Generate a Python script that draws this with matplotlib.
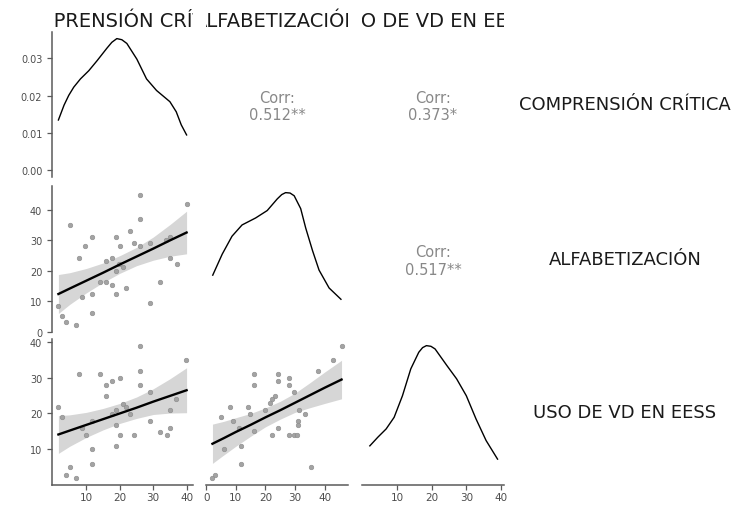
"""Scatterplot matrix (ggpairs style) of three scores: densities on the
diagonal, scatter + linear fit below, correlation text above."""

import matplotlib
matplotlib.use("Agg")
import matplotlib.pyplot as plt

W, H = 745, 506

VARS = ["COMPRENSIÓN CRÍTICA", "ALFABETIZACIÓN", "USO DE VD EN EESS"]
CORR_TEXT = {(0, 1): "0.512**", (0, 2): "0.373*", (1, 2): "0.517**"}

# --- scatter panels ---------------------------------------------------------
COMP_ALF_X = [26.0, 40.0, 5.0, 26.0, 23.1, 11.7, 18.8, 9.7, 20.0, 24.3, 26.0, 29.0,
              33.8, 35.0, 7.9, 15.9, 17.7, 19.9, 20.9, 18.8, 35.0, 37.0, 14.0, 15.9,
              17.8, 32.1, 8.6, 11.7, 18.8, 21.9, 29.0, 1.6, 2.7, 3.8, 6.8, 11.7]
COMP_ALF_Y = [45.0, 42.0, 35.2, 37.1, 33.2, 31.1, 31.1, 28.1, 28.1, 29.1, 28.1, 29.1,
              30.2, 31.0, 24.3, 23.1, 24.2, 22.3, 21.2, 20.1, 24.3, 22.3, 16.2, 16.2,
              15.2, 16.2, 11.3, 12.4, 12.4, 14.3, 9.5, 8.3, 5.3, 3.3, 2.3, 6.3]

COMP_USO_X = [26.0, 39.9, 7.9, 14.0, 26.0, 17.7, 20.0, 15.9, 26.0, 15.9, 29.0, 1.6,
              2.7, 20.9, 21.9, 18.8, 17.7, 23.1, 35.0, 36.9, 11.7, 8.6, 18.8, 29.0,
              20.0, 24.2, 32.0, 34.0, 35.0, 18.8, 11.7, 11.7, 5.0, 3.8, 6.8, 9.9]
COMP_USO_Y = [39.0, 35.0, 31.0, 31.0, 31.9, 29.1, 30.0, 28.1, 28.1, 25.0, 26.0, 21.9,
              19.1, 22.7, 21.9, 21.0, 19.9, 19.9, 21.0, 24.1, 17.8, 16.0, 16.8, 17.8,
              13.9, 13.9, 14.9, 13.9, 16.0, 10.9, 9.9, 5.9, 4.9, 2.8, 1.8, 13.9]

ALF_USO_X = [45.7, 42.8, 37.7, 16.2, 24.3, 28.1, 16.2, 24.3, 28.1, 29.6, 23.1, 22.2,
             21.4, 8.1, 14.1, 19.9, 5.0, 14.8, 31.3, 33.4, 8.9, 31.1, 31.1, 11.1,
             24.3, 16.2, 22.2, 28.1, 29.7, 30.6, 5.9, 11.9, 11.9, 35.4, 3.0, 2.1]
ALF_USO_Y = [39.0, 35.0, 31.9, 31.0, 31.0, 30.0, 28.1, 29.1, 28.1, 26.0, 25.0, 24.1,
             22.9, 21.9, 21.9, 21.0, 19.0, 19.9, 21.0, 19.9, 17.8, 17.8, 16.7, 16.0,
             16.0, 15.0, 13.9, 13.9, 13.9, 13.9, 9.9, 10.9, 5.9, 4.9, 2.8, 1.8]

# --- linear fits with confidence band ---------------------------------------
FIT_COMP_ALF_X = [1.6, 5, 10, 15, 20, 25, 30, 35, 40]
FIT_COMP_ALF_Y = [12.4, 14.2, 16.8, 19.4, 22.1, 24.7, 27.3, 30.0, 32.6]
FIT_COMP_ALF_LO = [6.0, 9.0, 12.8, 16.2, 19.2, 21.7, 23.5, 24.8, 25.6]
FIT_COMP_ALF_HI = [18.8, 19.4, 20.8, 22.6, 25.0, 27.7, 31.1, 35.2, 39.6]

FIT_COMP_USO_X = [1.6, 5, 10, 15, 20, 25, 30, 35, 40]
FIT_COMP_USO_Y = [14.1, 15.2, 16.8, 18.4, 20.0, 21.6, 23.3, 24.9, 26.5]
FIT_COMP_USO_LO = [8.8, 10.8, 13.3, 15.4, 17.2, 18.6, 19.7, 20.1, 20.2]
FIT_COMP_USO_HI = [19.4, 19.6, 20.3, 21.4, 22.8, 24.6, 26.9, 29.7, 32.8]

FIT_ALF_USO_X = [2.1, 6, 10, 15, 20, 25, 30, 35, 40, 45.7]
FIT_ALF_USO_Y = [11.5, 13.1, 14.8, 16.8, 18.9, 20.9, 23.0, 25.1, 27.2, 29.5]
FIT_ALF_USO_LO = [6.0, 8.4, 10.8, 13.6, 16.25, 18.4, 20.3, 21.6, 22.8, 24.1]
FIT_ALF_USO_HI = [17.0, 17.8, 18.8, 20.0, 21.55, 23.4, 25.7, 28.6, 31.6, 34.9]

# --- diagonal densities -----------------------------------------------------
DENS_COMP_X = [1.6, 3.3, 4.7, 6.2, 8.2, 10.7, 13.2, 16.1, 17.6, 19.1, 20.6, 22.1,
               25.1, 28.0, 31.0, 35.0, 36.9, 38.4, 40.0]
DENS_COMP_Y = [0.0135, 0.0175, 0.0201, 0.0223, 0.0245, 0.0267, 0.0294, 0.0327,
               0.0343, 0.0353, 0.0350, 0.0340, 0.0298, 0.0245, 0.0214, 0.0184,
               0.0157, 0.0122, 0.0095]
DENS_ALF_X = [2.2, 5.4, 8.7, 12.1, 16.7, 20.6, 24.0, 25.5, 26.8, 28.3, 29.7, 31.9,
              33.6, 35.9, 38.1, 41.5, 45.5]
DENS_ALF_Y = [0.0129, 0.0183, 0.0229, 0.0258, 0.0276, 0.0295, 0.0325, 0.0336,
              0.0341, 0.0340, 0.0333, 0.0300, 0.0250, 0.0192, 0.0142, 0.0096,
              0.0067]
DENS_USO_X = [2.2, 4.5, 6.9, 9.2, 11.6, 14.0, 16.3, 17.4, 18.5, 19.8, 21.0, 24.4,
              27.2, 30.0, 32.8, 35.7, 39.0]
DENS_USO_Y = [0.0098, 0.0124, 0.0149, 0.0184, 0.0249, 0.0330, 0.0380, 0.0394,
              0.0400, 0.0398, 0.0390, 0.0340, 0.0300, 0.0249, 0.0179, 0.0114,
              0.0058]

# panel placement in pixels (left/right, top/bottom)
COL_PX = [(52, 193), (206, 348), (362, 504)]
ROW_PX = [(33, 178), (187, 333), (340, 486)]

AXIS_GREY = "#5a5a5a"
TEXT_GREY = "#4d4d4d"


def px_rect(x0, x1, y0, y1):
    return [x0 / W, 1 - y1 / H, (x1 - x0) / W, (y1 - y0) / H]


def expand(values, frac=0.05):
    lo, hi = min(values), max(values)
    pad = (hi - lo) * frac
    return lo - pad, hi + pad


def main() -> None:
    fig = plt.figure(figsize=(W / 100, H / 100), dpi=100)

    limits = [
        expand(COMP_ALF_X + COMP_USO_X),
        expand(COMP_ALF_Y + ALF_USO_X),
        expand(COMP_USO_Y + ALF_USO_Y),
    ]
    scatter = {
        (1, 0): (COMP_ALF_X, COMP_ALF_Y, FIT_COMP_ALF_X, FIT_COMP_ALF_Y,
                 FIT_COMP_ALF_LO, FIT_COMP_ALF_HI),
        (2, 0): (COMP_USO_X, COMP_USO_Y, FIT_COMP_USO_X, FIT_COMP_USO_Y,
                 FIT_COMP_USO_LO, FIT_COMP_USO_HI),
        (2, 1): (ALF_USO_X, ALF_USO_Y, FIT_ALF_USO_X, FIT_ALF_USO_Y,
                 FIT_ALF_USO_LO, FIT_ALF_USO_HI),
    }
    dens = [(DENS_COMP_X, DENS_COMP_Y), (DENS_ALF_X, DENS_ALF_Y),
            (DENS_USO_X, DENS_USO_Y)]
    x_ticks = [[10, 20, 30, 40], [0, 10, 20, 30, 40], [10, 20, 30, 40]]
    y_ticks = {1: [0, 10, 20, 30, 40], 2: [10, 20, 30, 40]}

    for r in range(3):
        for c in range(3):
            ax = fig.add_axes(px_rect(*COL_PX[c], *ROW_PX[r]))
            for s in ax.spines.values():
                s.set_visible(False)
            ax.set_xticks([])
            ax.set_yticks([])
            ax.patch.set_visible(False)

            if r < c:
                ax.text(0.5, 0.49, "Corr:\n" + CORR_TEXT[(r, c)],
                        transform=ax.transAxes, ha="center", va="center",
                        fontsize=10.5, color="#888888", linespacing=1.2)
                continue

            ax.set_xlim(*limits[c])
            if r == c:
                dx, dy = dens[c]
                ax.plot(dx, dy, color="black", linewidth=1.0,
                        solid_joinstyle="round")
                top = max(dy)
                ax.set_ylim(-0.05 * top, 1.05 * top)
            else:
                px_, py_, fx, fy, flo, fhi = scatter[(r, c)]
                ax.fill_between(fx, flo, fhi, color="#d6d6d6", linewidth=0,
                                zorder=1)
                ax.scatter(px_, py_, s=11, color="#a3a3a3",
                           edgecolors="#8a8a8a", linewidths=0.4, zorder=2)
                ax.plot(fx, fy, color="black", linewidth=1.7, zorder=3)
                ax.set_ylim(*limits[r])

            ax.tick_params(axis="y", labelsize=7, labelcolor=TEXT_GREY,
                           color=AXIS_GREY, length=3.5, width=0.9, pad=3.5)
            ax.tick_params(axis="x", labelsize=7.5, labelcolor=TEXT_GREY,
                           color=AXIS_GREY, length=3.5, width=0.9, pad=1.4)
            if c == 0:
                ax.spines["left"].set_visible(True)
                ax.spines["left"].set_color(AXIS_GREY)
                ax.spines["left"].set_linewidth(1.1)
                if r == 0:
                    ax.set_yticks([0, 0.01, 0.02, 0.03])
                    ax.set_yticklabels(["0.00", "0.01", "0.02", "0.03"])
                else:
                    ax.set_yticks(y_ticks[r])
            if r == 2:
                ax.spines["bottom"].set_visible(True)
                ax.spines["bottom"].set_color(AXIS_GREY)
                ax.spines["bottom"].set_linewidth(1.1)
                ax.set_xticks(x_ticks[c])

    # column strips on top, clipped to the panel width
    for c in range(3):
        sax = fig.add_axes(px_rect(*COL_PX[c], 9, 34))
        sax.axis("off")
        sax.text(0.5, 0.5, VARS[c], transform=sax.transAxes, ha="center",
                 va="center", fontsize=14, color="#1a1a1a", clip_on=True)

    # row labels on the right
    for r in range(3):
        yc = (ROW_PX[r][0] + ROW_PX[r][1]) / 2
        fig.text(625 / W, 1 - yc / H, VARS[r], ha="center", va="center",
                 fontsize=13, color="#1a1a1a")

    fig.savefig("out.png", dpi=100)


if __name__ == "__main__":
    main()
